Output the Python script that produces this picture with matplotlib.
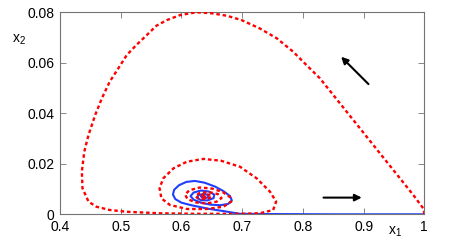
import matplotlib
matplotlib.use("Agg")
import matplotlib.pyplot as plt

plt.rcParams['font.family'] = ['Liberation Sans', 'DejaVu Sans']
plt.rcParams['mathtext.fontset'] = 'custom'
plt.rcParams['mathtext.rm'] = 'Liberation Sans'
plt.rcParams['mathtext.it'] = 'Liberation Sans'

# Red dashed trajectory (x1, x2)
red_x1 = [1.0, 0.999, 0.982, 0.960, 0.938, 0.916, 0.894, 0.872, 0.850, 0.828, 0.806, 0.784,
          0.757, 0.729, 0.699, 0.675, 0.650, 0.625, 0.598, 0.576, 0.559, 0.543, 0.526, 0.510,
          0.496, 0.482, 0.469, 0.458, 0.447, 0.440, 0.436, 0.437, 0.447, 0.460, 0.482, 0.510,
          0.565, 0.620, 0.6965, 0.729, 0.751, 0.756, 0.746, 0.724, 0.6965, 0.665, 0.636, 0.609,
          0.587, 0.570, 0.564, 0.567, 0.581, 0.609, 0.642, 0.669, 0.682, 0.680, 0.668, 0.650,
          0.630, 0.613, 0.606, 0.610, 0.624, 0.642, 0.658, 0.666, 0.660, 0.645, 0.630, 0.623,
          0.628, 0.641, 0.650, 0.645, 0.635, 0.632, 0.639, 0.642, 0.638]
red_x2 = [0.0, 0.0021, 0.0076, 0.0142, 0.0208, 0.0274, 0.0340, 0.0406, 0.0472, 0.0538, 0.0590, 0.0643,
          0.0696, 0.0735, 0.0768, 0.0785, 0.0795, 0.0799, 0.0788, 0.0768, 0.0746, 0.0709, 0.0670, 0.0630,
          0.0577, 0.0525, 0.0459, 0.0393, 0.0314, 0.0248, 0.0169, 0.0103, 0.0050, 0.0030, 0.0017, 0.0010,
          0.0004, 0.0002, 0.0002, 0.0004, 0.0017, 0.0050, 0.0089, 0.0142, 0.0188, 0.0212, 0.0219, 0.0208,
          0.0182, 0.0142, 0.0103, 0.0063, 0.0037, 0.0021, 0.0021, 0.0030, 0.0050, 0.0068, 0.0088, 0.0102,
          0.0106, 0.0095, 0.0078, 0.0060, 0.0047, 0.0043, 0.0050, 0.0064, 0.0080, 0.0088, 0.0084, 0.0072,
          0.0062, 0.0060, 0.0068, 0.0078, 0.0077, 0.0069, 0.0066, 0.0072, 0.0073]

# Blue solid trajectory (x1, x2)
blue_x1 = [1.0, 0.85, 0.75, 0.696, 0.671, 0.644, 0.616, 0.600, 0.590, 0.586, 0.588, 0.596,
           0.608, 0.622, 0.638, 0.655, 0.669, 0.680, 0.683, 0.677, 0.664, 0.648, 0.632, 0.620,
           0.615, 0.620, 0.632, 0.645, 0.654, 0.653, 0.643, 0.632, 0.626, 0.628, 0.637, 0.645,
           0.643, 0.636, 0.632, 0.637]
blue_x2 = [0.0, 0.0, 0.0001, 0.0002, 0.0012, 0.0022, 0.0036, 0.0046, 0.0060, 0.0078, 0.0097, 0.0115,
           0.0128, 0.0132, 0.0125, 0.0110, 0.0092, 0.0072, 0.0055, 0.0041, 0.0036, 0.0038, 0.0046, 0.0058,
           0.0072, 0.0086, 0.0094, 0.0090, 0.0078, 0.0064, 0.0055, 0.0056, 0.0065, 0.0076, 0.0081, 0.0075,
           0.0066, 0.0064, 0.0071, 0.0074]

# Arrows: (tail, head)
arrow_tails = [(0.908, 0.0515), (0.834, 0.0066)]
arrow_heads = [(0.863, 0.0623), (0.897, 0.0066)]

xticks = [0.4, 0.5, 0.6, 0.7, 0.8, 0.9, 1.0]
xticklabels = ['0.4', '0.5', '0.6', '0.7', '0.8', '0.9', '1']
yticks = [0, 0.02, 0.04, 0.06, 0.08]
yticklabels = ['0', '0.02', '0.04', '0.06', '0.08']

W, H = 471, 249
fig = plt.figure(figsize=(W / 100, H / 100), dpi=100)
ax = fig.add_axes([60 / W, 1 - 214.3 / H, 364.3 / W, 202.3 / H])

ax.plot(blue_x1, blue_x2, color='#1f3fff', lw=1.5, solid_joinstyle='round', zorder=2)
ax.plot(red_x1, red_x2, color='#ff0000', lw=1.7, linestyle=(0, (1.5, 1.2)), zorder=3)

for t, h in zip(arrow_tails, arrow_heads):
    ax.annotate('', xy=h, xytext=t,
                arrowprops=dict(arrowstyle='-|>', color='black', lw=1.5,
                                mutation_scale=10, shrinkA=0, shrinkB=0))

ax.set_xlim(0.4, 1.0)
ax.set_ylim(0, 0.08)
ax.set_xticks(xticks)
ax.set_xticklabels(xticklabels)
ax.set_yticks(yticks)
ax.set_yticklabels(yticklabels)
ax.tick_params(direction='in', length=4, width=0.6, color='0.45', labelsize=10,
               top=True, right=True, pad=4)
for s in ax.spines.values():
    s.set_color('0.45')
    s.set_linewidth(0.8)

fig.text(395 / W, 1 - 232 / H, 'x$_1$', fontsize=10, ha='center', va='center')
fig.text(19 / W, 1 - 40 / H, 'x$_2$', fontsize=10, ha='center', va='center')

fig.savefig('out.png', dpi=100)
